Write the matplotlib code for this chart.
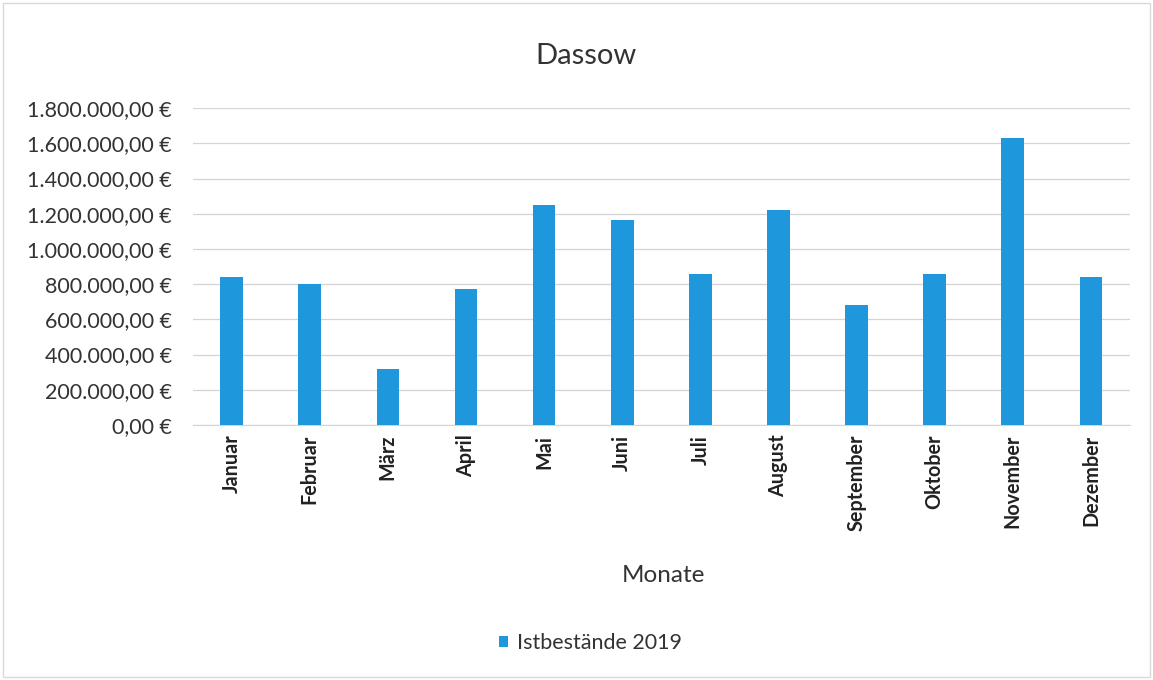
"""Dassow Istbestände 2019 als Säulendiagramm."""

import matplotlib

matplotlib.use("Agg")

import matplotlib.pyplot as plt
from matplotlib.patches import Rectangle
from matplotlib.ticker import FuncFormatter

monate = [
    "Januar", "Februar", "März", "April", "Mai", "Juni",
    "Juli", "August", "September", "Oktober", "November", "Dezember",
]
istbestaende = [
    842000, 799000, 316000, 772000, 1249000, 1162000,
    859000, 1221000, 681000, 856000, 1631000, 840000,
]
y_ticks = [i * 200000 for i in range(10)]

plt.rcParams["font.family"] = ["Lato", "DejaVu Sans"]

BAR_COLOR = "#1f97dd"
TEXT_COLOR = "#333333"


def euro(value, _pos=None):
    text = f"{value:,.2f}"
    text = text.replace(",", "X").replace(".", ",").replace("X", ".")
    return f"{text} €"


fig = plt.figure(figsize=(11.53, 6.8), dpi=100)
fig.patches.append(
    Rectangle((0.003, 0.004), 0.994, 0.992, transform=fig.transFigure,
              fill=False, edgecolor="#d9d9d9", linewidth=1)
)
ax = fig.add_axes([0.167, 0.375, 0.813, 0.466])

positions = range(len(monate))
ax.bar(positions, istbestaende, width=0.29, color=BAR_COLOR,
       label="Istbestände 2019", zorder=3)

ax.set_xlim(-0.5, len(monate) - 0.5)
ax.set_ylim(0, 1800000)
ax.set_yticks(y_ticks)
ax.yaxis.set_major_formatter(FuncFormatter(euro))
ax.set_xticks(list(positions))
ax.set_xticklabels(monate, rotation=90, fontsize=14.2, fontweight="bold",
                   color="#222222")
ax.tick_params(axis="y", labelsize=15.5, colors=TEXT_COLOR, length=0, pad=15)
ax.tick_params(axis="x", length=0, pad=7)

ax.grid(axis="y", color="#d4d4d4", linewidth=0.9, zorder=0)
for side in ("top", "right", "left"):
    ax.spines[side].set_visible(False)
ax.spines["bottom"].set_color("#d4d4d4")

fig.text(0.508, 0.918, "Dassow", fontsize=21, color=TEXT_COLOR,
         ha="center", va="center")
fig.text(0.575, 0.154, "Monate", fontsize=17.5, color=TEXT_COLOR,
         ha="center", va="center")

fig.legend(loc="center", bbox_to_anchor=(0.512, 0.054), frameon=False,
           fontsize=15.5, handlelength=0.45, handleheight=0.45,
           handletextpad=0.4, labelcolor=TEXT_COLOR)

fig.savefig("out.png", dpi=100)
